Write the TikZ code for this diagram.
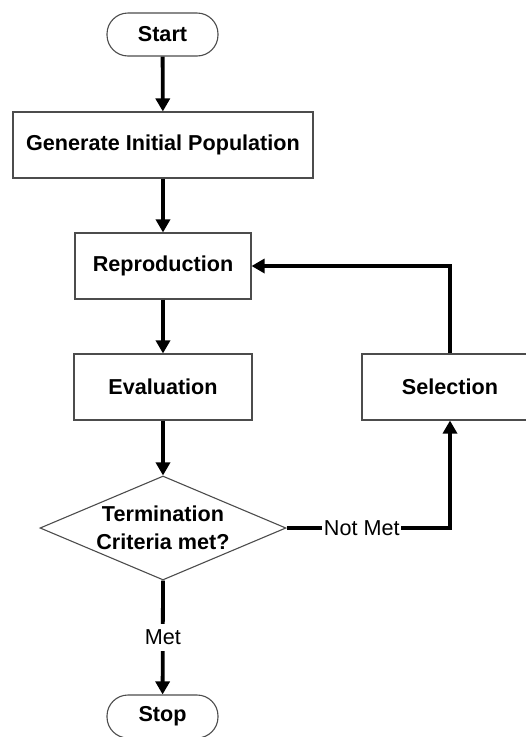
\documentclass[tikz,border=0pt]{standalone}
\usepackage{fontspec}
\setmainfont{Liberation Sans}
\usetikzlibrary{arrows.meta,shapes.geometric,positioning}

\newcommand\chartfont{\fontsize{21.6}{28}\selectfont}

\tikzset{
  box/.style={draw=black!70, line width=1.1pt, rectangle, minimum height=66pt,
    inner sep=0pt, font=\chartfont\bfseries},
  terminal/.style={draw=black!70, line width=1.1pt, rectangle, rounded corners=21pt,
    minimum width=111pt, minimum height=43pt, inner sep=0pt, font=\chartfont\bfseries},
  decision/.style={draw=black!70, line width=1.1pt, diamond, inner sep=0pt,
    minimum width=246pt, minimum height=104pt},
  flow/.style={draw=black, line width=3.8pt,
    -{Triangle[length=13pt,width=14pt]}},
  edgelabel/.style={fill=white, inner xsep=1.5pt, inner ysep=6pt, font=\chartfont}
}

\begin{document}
\begin{tikzpicture}[x=1pt, y=-1pt]
  \useasboundingbox (0,0) rectangle (526,737);
  \begin{scope}
    \clip (0,0) rectangle (526,737);

    % blocks of the flow chart
    \node[terminal] (start) at (162.5,34.5) {Start};
    \node[box, minimum width=300pt] (gen) at (163,145) {Generate Initial Population};
    \node[box, minimum width=176pt] (rep) at (163,266) {Reproduction};
    \node[box, minimum width=178pt] (eval) at (163,387) {Evaluation};
    \node[box, minimum width=176pt] (sel) at (450,387) {Selection};
    \node[decision, label={[align=center, font=\chartfont\bfseries]center:Termination\\Criteria met?}]
      (dec) at (163,528) {};
    \node[terminal] (stop) at (162.5,716.5) {Stop};

    % connectors
    \draw[flow] (start) -- (gen);
    \draw[flow] (gen) -- (rep);
    \draw[flow] (rep) -- (eval);
    \draw[flow] (eval) -- (dec);
    \draw[flow] (dec.south) -- node[edgelabel] {Met} (stop);
    \draw[flow] (dec.east) -| node[edgelabel, pos=0.23] {Not Met} (sel.south);
    \draw[flow] (sel.north) |- (rep.east);
  \end{scope}
\end{tikzpicture}
\end{document}
